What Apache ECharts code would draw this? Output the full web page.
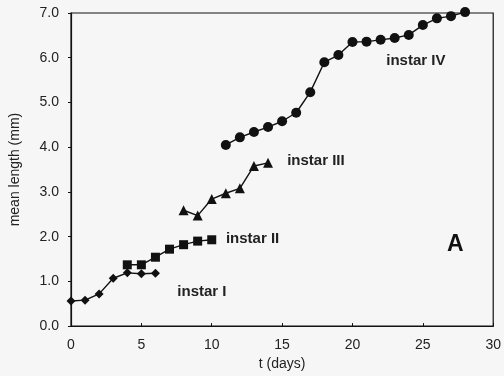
<!DOCTYPE html>
<html><head><meta charset="utf-8">
<script src="https://cdn.jsdelivr.net/npm/echarts@6/dist/echarts.min.js"></script>
<style>html,body{margin:0;padding:0;background:#f6f6f6}#c{width:504px;height:376px}</style>
</head><body><div id="c"></div>
<script>
const instarIDays = [0,1,2,3,4,5,6];
const instarIValues = [0.56,0.58,0.72,1.07,1.19,1.17,1.18];
const instarIIDays = [4,5,6,7,8,9,10];
const instarIIValues = [1.37,1.37,1.54,1.72,1.82,1.90,1.93];
const instarIIIDays = [8,9,10,11,12,13,14];
const instarIIIValues = [2.59,2.47,2.84,2.97,3.08,3.58,3.65];
const instarIVDays = [11,12,13,14,15,16,17,18,19,20,21,22,23,24,25,26,27,28];
const instarIVValues = [4.05,4.22,4.34,4.45,4.58,4.77,5.23,5.90,6.06,6.35,6.36,6.40,6.44,6.51,6.73,6.88,6.93,7.02];
const labels = [
  {text:'instar I', t:9.3, v:0.76},
  {text:'instar II', t:12.9, v:1.95},
  {text:'instar III', t:17.4, v:3.69},
  {text:'instar IV', t:24.5, v:5.93}
];
const panelLetter = {text:'A', t:27.3, v:1.83};

const pair = (xs, ys) => xs.map((x,i)=>[x, ys[i]]);
const chart = echarts.init(document.getElementById('c'));
const font = 'Liberation Sans, Arial, sans-serif';
function ser(data, symbol, size){
  return {type:'line', data, symbol, symbolSize:size, showSymbol:true, clip:false,
    lineStyle:{color:'#111', width:1.4}, itemStyle:{color:'#111'}, animation:false, z:3};
}
chart.setOption({
  backgroundColor:'#f6f6f6',
  animation:false,
  grid:{left:65, right:10, top:13, bottom:49, show:true, borderColor:'#111', borderWidth:1.2, backgroundColor:'transparent'},
  xAxis:{type:'value', min:0, max:30, interval:5,
    name:'t (days)', nameLocation:'middle', nameGap:27,
    nameTextStyle:{fontFamily:font, fontSize:14, color:'#222'},
    axisLine:{show:true, lineStyle:{color:'#111', width:1.2}},
    axisTick:{show:true, inside:true, length:3, lineStyle:{color:'#111'}},
    axisLabel:{fontFamily:font, fontSize:14, color:'#222', margin:12},
    splitLine:{show:false}},
  yAxis:{type:'value', min:0, max:7, interval:1,
    name:'mean length (mm)', nameLocation:'middle', nameGap:49,
    nameTextStyle:{fontFamily:font, fontSize:14, color:'#222'},
    axisLine:{show:true, lineStyle:{color:'#111', width:1.2}},
    axisTick:{show:true, length:3, lineStyle:{color:'#111'}},
    axisLabel:{fontFamily:font, fontSize:14, color:'#222', margin:12, formatter:v=>v.toFixed(1)},
    splitLine:{show:false}},
  series:[
    ser(pair(instarIDays, instarIValues), 'diamond', 9),
    ser(pair(instarIIDays, instarIIValues), 'rect', 9),
    ser(pair(instarIIIDays, instarIIIValues), 'triangle', 10),
    ser(pair(instarIVDays, instarIVValues), 'circle', 10)
  ]
});
const g = labels.map(l=>{
  const p = chart.convertToPixel({gridIndex:0}, [l.t, l.v]);
  return {type:'text', x:p[0], y:p[1], style:{text:l.text, fontFamily:font, fontSize:15, fontWeight:'bold', fill:'#222', align:'center', verticalAlign:'middle'}};
});
const pA = chart.convertToPixel({gridIndex:0}, [panelLetter.t, panelLetter.v]);
g.push({type:'text', x:pA[0], y:pA[1], style:{text:panelLetter.text, fontFamily:font, fontSize:23, fontWeight:'bold', fill:'#111', align:'center', verticalAlign:'middle'}});
chart.setOption({graphic:g});
</script></body></html>
